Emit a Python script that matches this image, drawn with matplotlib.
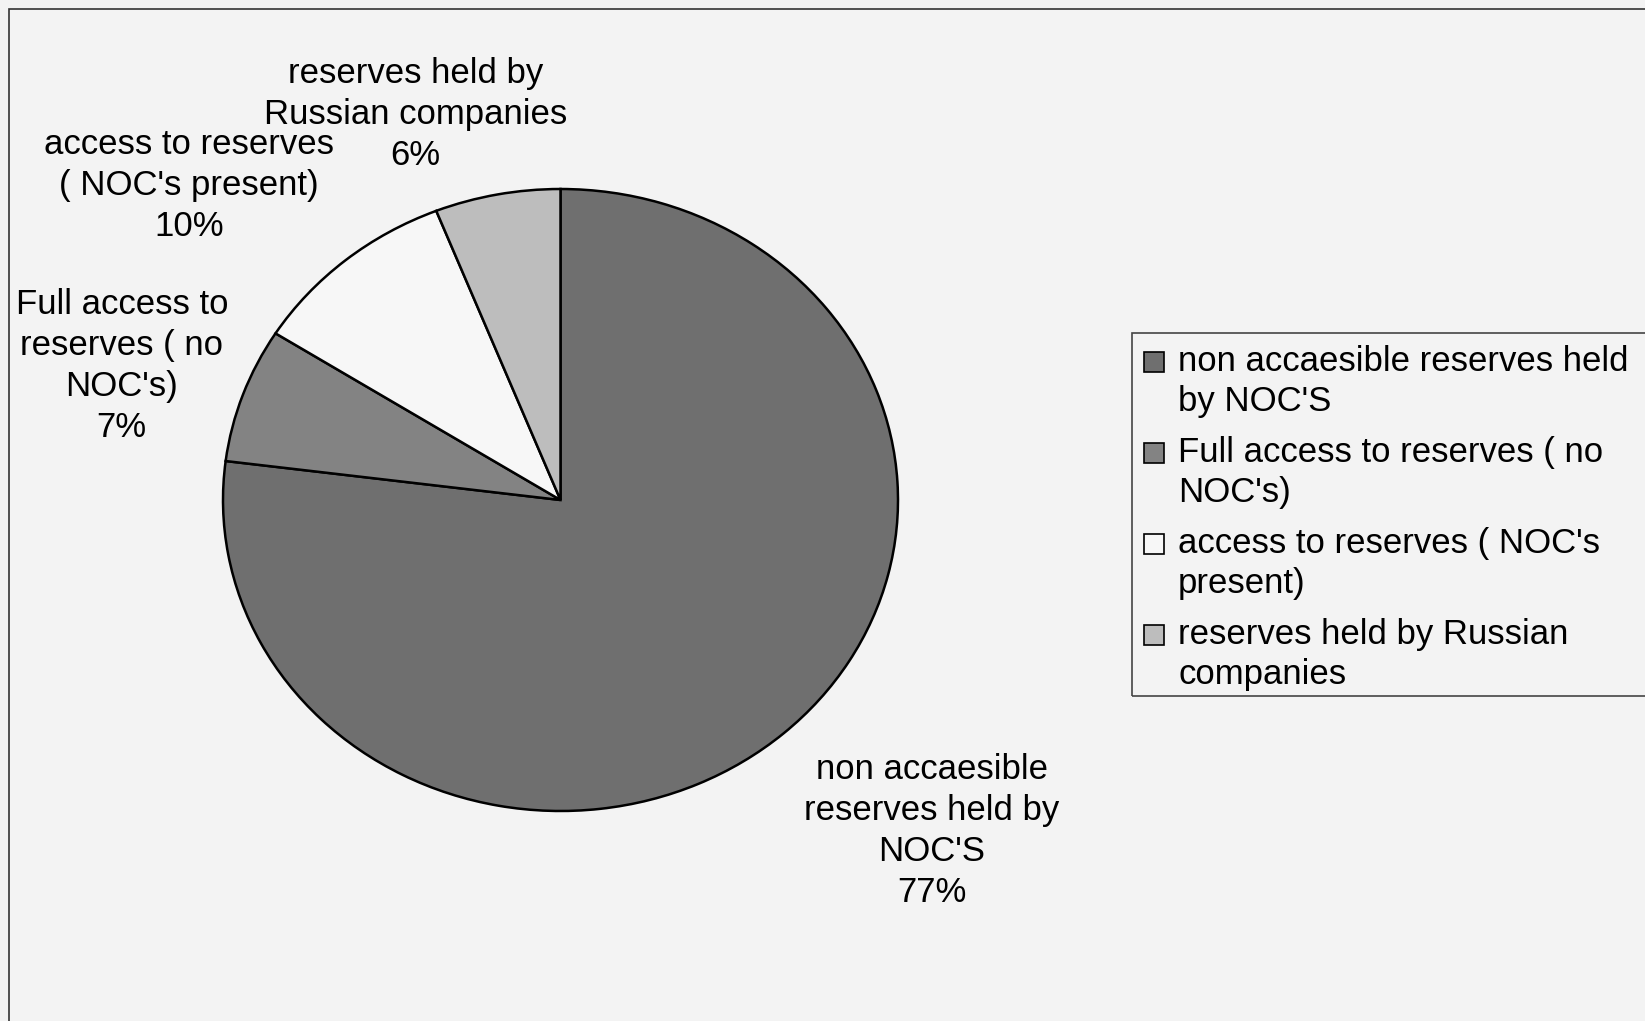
import matplotlib.pyplot as plt
from matplotlib.patches import Rectangle

plt.rcParams['font.family'] = ['Liberation Sans', 'DejaVu Sans']

# data
labels = ["non accaesible reserves held by NOC'S",
          "Full access to reserves ( no NOC's)",
          "access to reserves ( NOC's present)",
          "reserves held by Russian companies"]
values = [77, 7, 10, 6]
colors = ['#6f6f6f', '#838383', '#f7f7f7', '#bdbdbd']
pie_labels = ["non accaesible\nreserves held by\nNOC'S",
              "Full access to\nreserves ( no\nNOC's)",
              "access to reserves\n( NOC's present)",
              "reserves held by\nRussian companies"]
legend_labels = ["non accaesible reserves held\nby NOC'S",
                 "Full access to reserves ( no\nNOC's)",
                 "access to reserves ( NOC's\npresent)",
                 "reserves held by Russian\ncompanies"]
# label centres, in pie axes units
label_pos = [(1.10, -1.065), (-1.30, 0.43), (-1.10, 1.01), (-0.43, 1.24)]

W, H = 1645, 1021
fig = plt.figure(figsize=(W / 100, H / 100), dpi=100)
fig.patch.set_facecolor('#f3f3f3')

# outer frame (right and bottom edges fall outside the picture)
fig.patches.append(Rectangle((9 / W, -0.05), 1.2, 1.05 - 9 / H, transform=fig.transFigure,
                             fill=False, edgecolor='#333333', linewidth=1.2))

# pie (stretched slightly wider than tall like the original)
ax = fig.add_axes([223 / W, 1 - 811 / H, 675 / W, 622 / H])
ax.pie(values, colors=colors, startangle=90, counterclock=False,
       wedgeprops=dict(edgecolor='black', linewidth=1.8))
ax.set_aspect('auto')
ax.set_xlim(-1, 1)
ax.set_ylim(-1, 1)
ax.axis('off')

for lab, v, (x, y) in zip(pie_labels, values, label_pos):
    ax.text(x, y, lab + '\n' + str(v) + '%', ha='center', va='center',
            fontsize=25, linespacing=1.31, clip_on=False)

# legend box drawn by hand so the swatch sits on the first line
fig.patches.append(Rectangle((1132 / W, 1 - 696 / H), 0.5, 363 / H,
                             transform=fig.transFigure, facecolor='none',
                             edgecolor='#444444', linewidth=1.2))
for i, (lab, c) in enumerate(zip(legend_labels, colors)):
    ytop = 362 + i * 91
    fig.patches.append(Rectangle((1144 / W, 1 - (ytop + 10) / H), 20 / W, 20 / H,
                                 transform=fig.transFigure, facecolor=c,
                                 edgecolor='black', linewidth=1.2))
    fig.text(1178 / W, 1 - (ytop - 17) / H, lab, ha='left', va='top',
             fontsize=25, linespacing=1.28)

fig.savefig('out.png', dpi=100, facecolor=fig.get_facecolor())
